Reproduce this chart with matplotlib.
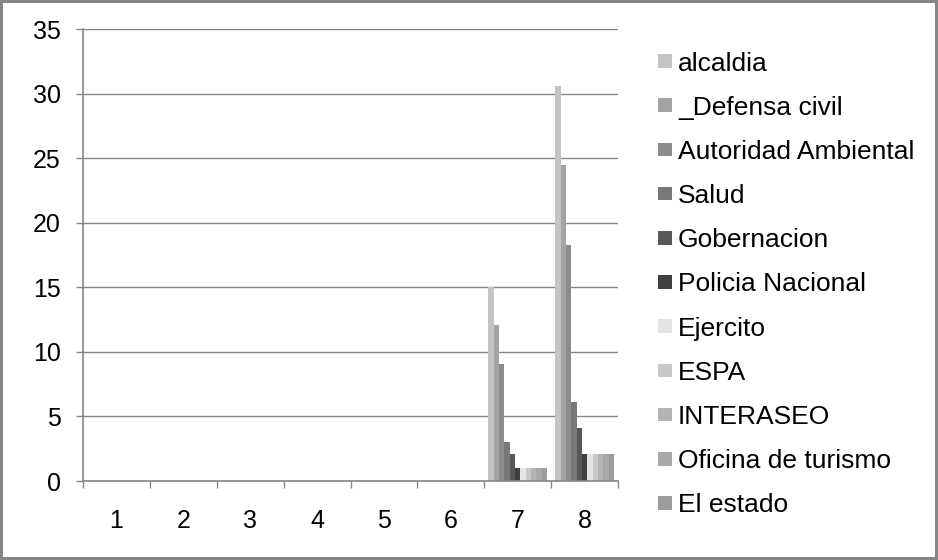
import numpy as np
import matplotlib.pyplot as plt

plt.rcParams['font.family'] = ['Liberation Sans', 'DejaVu Sans']

categories = ['1', '2', '3', '4', '5', '6', '7', '8']
series_names = ['alcaldia', '_Defensa civil', 'Autoridad Ambiental', 'Salud',
                'Gobernacion', 'Policia Nacional', 'Ejercito', 'ESPA',
                'INTERASEO', 'Oficina de turismo', 'El estado']
# values per series, one per category (1..8)
alcaldia = [0, 0, 0, 0, 0, 0, 15.0, 30.6]
defensa_civil = [0, 0, 0, 0, 0, 0, 12.1, 24.5]
autoridad_ambiental = [0, 0, 0, 0, 0, 0, 9.1, 18.3]
salud = [0, 0, 0, 0, 0, 0, 3.0, 6.1]
gobernacion = [0, 0, 0, 0, 0, 0, 2.1, 4.1]
policia = [0, 0, 0, 0, 0, 0, 1.0, 2.1]
ejercito = [0, 0, 0, 0, 0, 0, 1.0, 2.1]
espa = [0, 0, 0, 0, 0, 0, 1.0, 2.1]
interaseo = [0, 0, 0, 0, 0, 0, 1.0, 2.1]
oficina_turismo = [0, 0, 0, 0, 0, 0, 1.0, 2.1]
el_estado = [0, 0, 0, 0, 0, 0, 1.0, 2.1]

all_series = [alcaldia, defensa_civil, autoridad_ambiental, salud, gobernacion,
              policia, ejercito, espa, interaseo, oficina_turismo, el_estado]
colors = ['#c4c4c4', '#a4a4a4', '#8c8c8c', '#787878', '#585858', '#404040',
          '#e4e4e4', '#c8c8c8', '#b4b4b4', '#a8a8a8', '#9c9c9c']

axis_gray = '#868686'

fig = plt.figure(figsize=(9.38, 5.6), dpi=100)
fig.patch.set_edgecolor(axis_gray)
fig.patch.set_linewidth(3)
ax = fig.add_axes([0.0885, 0.141, 0.5704, 0.807])

n = len(all_series)
bar_w = 0.08
x = np.arange(len(categories))
handles = []
for i, (vals, col, name) in enumerate(zip(all_series, colors, series_names)):
    off = (i - (n - 1) / 2) * bar_w
    b = ax.bar(x + off, vals, width=bar_w, color=col, label=name, linewidth=0)
    handles.append(b)

ax.set_xlim(-0.5, len(categories) - 0.5)
ax.set_ylim(0, 35)
ax.set_yticks(np.arange(0, 36, 5))
ax.set_xticks(x)
ax.set_xticklabels(categories)
ax.set_xticks(np.arange(-0.5, len(categories), 1), minor=True)

ax.grid(axis='y', color=axis_gray, linewidth=1)
ax.set_axisbelow(True)
for s in ['top', 'right']:
    ax.spines[s].set_visible(False)
for s in ['left', 'bottom']:
    ax.spines[s].set_color(axis_gray)
    ax.spines[s].set_linewidth(1.2)

ax.tick_params(axis='y', length=5, width=1, color=axis_gray, labelsize=18, pad=11)
ax.tick_params(axis='x', which='major', length=0, labelsize=18, pad=20)
ax.tick_params(axis='x', which='minor', length=5, width=1, color=axis_gray)

leg = fig.legend(handles=handles, loc='upper left', bbox_to_anchor=(0.7015, 0.908),
                 frameon=False, fontsize=19, labelspacing=0.765,
                 handlelength=0.53, handleheight=0.42, handletextpad=0.23,
                 borderaxespad=0, borderpad=0)

fig.savefig('out.png', dpi=100)
